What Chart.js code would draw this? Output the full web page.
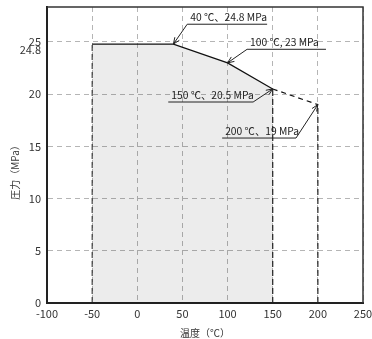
<!DOCTYPE html>
<html><head><meta charset="utf-8">
<script src="https://cdn.jsdelivr.net/npm/chart.js@4/dist/chart.umd.min.js"></script>
<style>html,body{margin:0;padding:0;background:#fff}#wrap{width:372px;height:339px;position:relative}</style>
</head><body><div id="wrap"><canvas id="c"></canvas></div>
<script>
// ---- data ----
const temps = [-50, 40, 100, 150];
const pressures = [24.8, 24.8, 23, 20.5];
const extTemps = [150, 200];
const extPressures = [20.5, 19];
const xTickValues = [-100, -50, 0, 50, 100, 150, 200, 250];
const yTickValues = [0, 5, 10, 15, 20, 25];
const extraYTick = 24.8;
const calloutLabels = ['40 ℃、24.8 MPa', '100 ℃, 23 MPa', '150 ℃、20.5 MPa', '200 ℃、19 MPa'];
const calloutTemps = [40, 100, 150, 200];
const calloutPressures = [24.8, 23, 20.5, 19];
const xTitle = '温度（℃）';
const yTitle = '圧力（MPa）';

// ---- callout label layout (data units for the underline) ----
const calloutLayout = [
  {x1: 55.3, x2: 143.8, y: 26.7, from: 'start'},
  {x1: 121.6, x2: 209, y: 24.3, from: 'start'},
  {x1: 34.3, x2: 128.3, y: 19.25, from: 'end'},
  {x1: 94, x2: 175.8, y: 15.8, from: 'end'}
];

const FONT = '"Noto Sans CJK JP", "Noto Sans", sans-serif';
const pts = (xs, ys) => xs.map((x, i) => ({x, y: ys[i]}));
const vline = (x, top) => [{x, y: 0}, {x, y: top}];

const calloutPlugin = {
  id: 'callouts',
  afterDatasetsDraw(chart) {
    const {ctx, scales: {x, y}} = chart;
    ctx.save();
    ctx.strokeStyle = '#222';
    ctx.fillStyle = '#222';
    ctx.lineWidth = 1;
    ctx.font = '10.3px ' + FONT;
    ctx.textBaseline = 'alphabetic';
    ctx.textAlign = 'left';
    calloutLabels.forEach((lab, i) => {
      const L = calloutLayout[i];
      const px1 = x.getPixelForValue(L.x1), px2 = x.getPixelForValue(L.x2);
      const py = y.getPixelForValue(L.y);
      const tx = x.getPixelForValue(calloutTemps[i]);
      const ty = y.getPixelForValue(calloutPressures[i]);
      const sx = L.from === 'start' ? px1 : px2;
      ctx.beginPath();
      ctx.moveTo(px2, py); ctx.lineTo(px1, py);
      ctx.stroke();
      ctx.beginPath();
      ctx.moveTo(sx, py); ctx.lineTo(tx, ty);
      ctx.stroke();
      const ang = Math.atan2(ty - py, tx - sx);
      const len = 7, spread = 0.4;
      ctx.beginPath();
      ctx.moveTo(tx - len * Math.cos(ang - spread), ty - len * Math.sin(ang - spread));
      ctx.lineTo(tx, ty);
      ctx.lineTo(tx - len * Math.cos(ang + spread), ty - len * Math.sin(ang + spread));
      ctx.stroke();
      ctx.fillText(lab, px1 + 3, py - 3);
    });
    ctx.restore();
  },
  afterDraw(chart) {
    const {ctx, chartArea: a, scales: {y}} = chart;
    ctx.save();
    ctx.strokeStyle = '#333';
    ctx.lineWidth = 1.5;
    ctx.beginPath();
    ctx.moveTo(a.left, a.top); ctx.lineTo(a.right, a.top); ctx.lineTo(a.right, a.bottom);
    ctx.stroke();
    ctx.fillStyle = '#333';
    ctx.font = '11px ' + FONT;
    ctx.textAlign = 'right';
    ctx.textBaseline = 'middle';
    ctx.fillText(String(extraYTick), a.left - 6, y.getPixelForValue(extraYTick) + 6);
    // y axis title
    ctx.font = '10px ' + FONT;
    ctx.textAlign = 'center';
    ctx.translate(15, (a.top + a.bottom) / 2 + 15);
    ctx.rotate(-Math.PI / 2);
    ctx.fillText(yTitle, 0, 0);
    ctx.restore();
  }
};

new Chart(document.getElementById('c'), {
  type: 'line',
  data: {
    datasets: [
      {data: pts(temps, pressures), borderColor: '#111', borderWidth: 1.2, fill: 'origin',
       backgroundColor: 'rgba(0,0,0,0.075)', pointRadius: 0, tension: 0},
      {data: pts(extTemps, extPressures), borderColor: '#111', borderWidth: 1.2, borderDash: [5, 4],
       fill: false, pointRadius: 0},
      {data: vline(temps[0], pressures[0]), borderColor: '#222', borderWidth: 1, borderDash: [6, 3],
       fill: false, pointRadius: 0},
      {data: vline(temps[temps.length - 1], pressures[pressures.length - 1]), borderColor: '#222', borderWidth: 1.2,
       borderDash: [6, 3], fill: false, pointRadius: 0},
      {data: vline(extTemps[extTemps.length - 1], extPressures[extPressures.length - 1]), borderColor: '#222',
       borderWidth: 1.2, borderDash: [6, 3], fill: false, pointRadius: 0}
    ]
  },
  options: {
    responsive: true,
    maintainAspectRatio: false,
    animation: false,
    layout: {padding: {top: 7, right: 9, left: 0, bottom: 0}},
    plugins: {legend: {display: false}, tooltip: {enabled: false}},
    scales: {
      x: {
        type: 'linear', min: -100, max: 250,
        afterBuildTicks: s => { s.ticks = xTickValues.map(v => ({value: v})); },
        afterFit: s => { s.height = 36; s.paddingLeft = 0; s.paddingRight = 0; },
        ticks: {color: '#333', font: {family: FONT, size: 11}, padding: 4, maxRotation: 0, autoSkip: false},
        grid: {color: '#b5b5b5', lineWidth: 1, drawTicks: false},
        border: {color: '#222', width: 2, dash: [5, 4]},
        title: {display: true, text: xTitle, color: '#333', font: {family: FONT, size: 10}, padding: {top: 3, bottom: 0}}
      },
      y: {
        type: 'linear', min: 0, max: 28.35,
        afterBuildTicks: s => { s.ticks = yTickValues.map(v => ({value: v})); },
        afterFit: s => { s.width = 47; s.paddingTop = 0; s.paddingBottom = 0; },
        ticks: {color: '#333', font: {family: FONT, size: 11}, padding: 6, autoSkip: false},
        grid: {color: '#b5b5b5', lineWidth: 1, drawTicks: false},
        border: {color: '#222', width: 2, dash: [5, 4]},
        title: {display: false}
      }
    }
  },
  plugins: [calloutPlugin]
});
</script>
</body></html>
